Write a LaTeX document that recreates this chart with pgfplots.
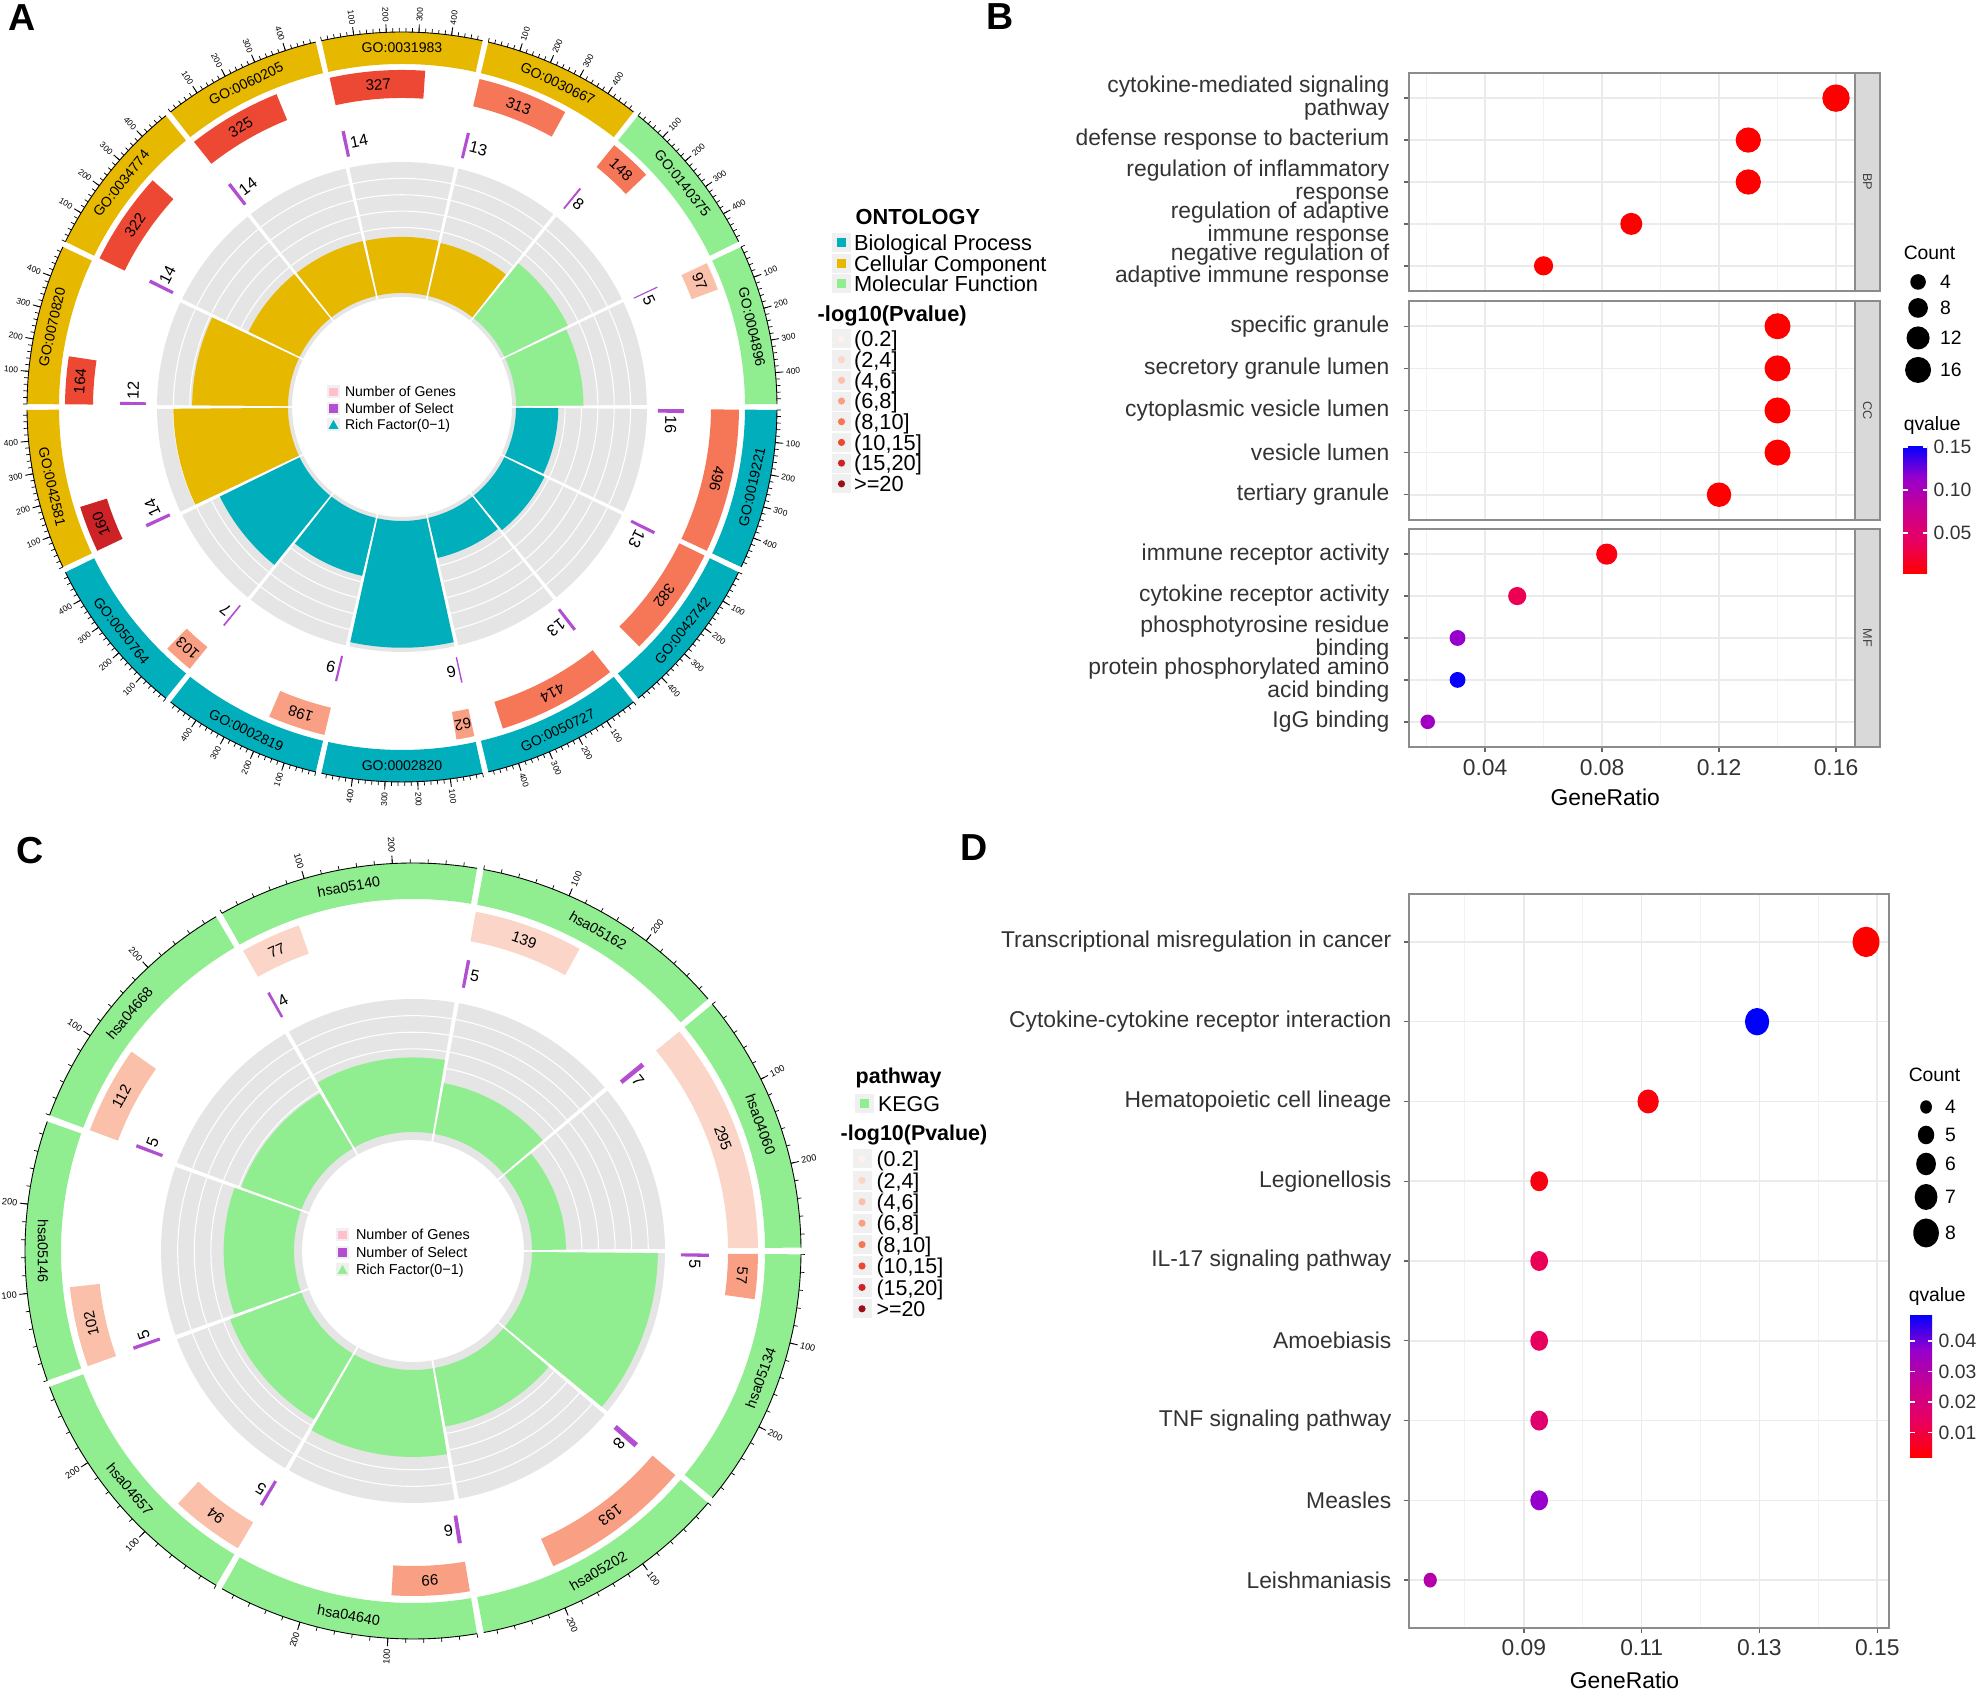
\documentclass[border=0pt]{standalone}
\usepackage{fontspec}
\setmainfont{Liberation Sans}
\usepackage{pgfplots}
\usepackage{pgfplotstable}
\pgfplotsset{compat=1.18}

\definecolor{ontbp}{RGB}{0,175,187}
\definecolor{ontcc}{RGB}{231,184,0}
\definecolor{ontmf}{RGB}{144,238,144}
\definecolor{selc}{RGB}{178,78,208}
\definecolor{ringbg}{RGB}{229,229,229}
\definecolor{keybg}{RGB}{240,240,240}
\definecolor{genepink}{RGB}{255,192,203}
\definecolor{p1}{RGB}{254,242,238}
\definecolor{p2}{RGB}{251,214,200}
\definecolor{p3}{RGB}{250,192,170}
\definecolor{p4}{RGB}{249,160,132}
\definecolor{p5}{RGB}{246,118,88}
\definecolor{p6}{RGB}{236,72,52}
\definecolor{p7}{RGB}{205,35,38}
\definecolor{p8}{RGB}{155,15,25}

% GO terms of panel A, clockwise from 3 o'clock
\pgfplotstableread{
k  id          ont genes sel bin
0  GO:0019221  bp  496   16  5
1  GO:0042742  bp  382   13  5
2  GO:0050727  bp  414   13  5
3  GO:0002820  bp  62    6   4
4  GO:0002819  bp  198   9   4
5  GO:0050764  bp  103   7   4
6  GO:0042581  cc  160   14  7
7  GO:0070820  cc  164   12  6
8  GO:0034774  cc  322   14  6
9  GO:0060205  cc  325   14  6
10 GO:0031983  cc  327   14  6
11 GO:0030667  cc  313   13  5
12 GO:0140375  mf  148   8   5
13 GO:0004896  mf  97    5   3
}\goTab

% KEGG pathways of panel C, clockwise from 3 o'clock
\pgfplotstableread{
k id       ont genes sel bin
0 hsa05134 mf  57    5   4
1 hsa05202 mf  193   8   4
2 hsa04640 mf  99    6   4
3 hsa04657 mf  94    5   3
4 hsa05146 mf  102   5   3
5 hsa04668 mf  112   5   3
6 hsa05140 mf  77    4   2
7 hsa05162 mf  139   5   2
8 hsa04060 mf  295   7   2
}\keggTab

% dot plots (row 1 = bottom)
\pgfplotstableread{
row ratio count q
5 0.16 16 0.0001
4 0.13 13 0.0001
3 0.13 13 0.0001
2 0.09 9  0.0001
1 0.06 6  0.0002
}\bpTab
\pgfplotstableread{
row ratio count q
5 0.14 14 0.0001
4 0.14 14 0.0001
3 0.14 14 0.0001
2 0.14 14 0.0001
1 0.12 12 0.0002
}\ccTab
\pgfplotstableread{
row ratio  count q
5 0.0816 8 0.008
4 0.0510 5 0.035
3 0.0306 3 0.114
2 0.0306 3 0.150
1 0.0204 2 0.108
}\mfTab
\pgfplotstableread{
row ratio  count q
9 0.1481 8 0.0020
8 0.1296 7 0.0488
7 0.1111 6 0.0035
6 0.0926 5 0.0040
5 0.0926 5 0.0125
4 0.0926 5 0.0135
3 0.0926 5 0.0165
2 0.0926 5 0.0370
1 0.0741 4 0.0300
}\keggDot

% polar position of (#1:#2) seen from the plotted point (\tp:\rp)
\newcommand\relpt[2]{%
  \pgfmathsetmacro\rx{(#2)*cos(#1)-\rp*cos(\tp)}%
  \pgfmathsetmacro\ry{(#2)*sin(#1)-\rp*sin(\tp)}%
  \pgfmathsetmacro\pa{atan2(\ry,\rx)}%
  \pgfmathsetmacro\pr{veclen(\rx,\ry)}}
\newcommand\ringseg[5]{%
  \relpt{#1}{#3}\let\sa\pa\let\sr\pr
  \relpt{#2}{#4}\let\ea\pa\let\er\pr
  \fill[fill=#5, draw=none] (\sa:\sr) arc[start angle=#1,end angle=#2,radius=#3] -- (\ea:\er) arc[start angle=#2,end angle=#1,radius=#4] -- cycle;}

\pgfplotsset{
  colormap={rb}{rgb255=(255,0,0) rgb255=(233,0,95) rgb255=(200,0,145) rgb255=(150,0,205) rgb255=(0,0,255)},
  ring/.style={forget plot, only marks, scatter, mark=*, mark size=0pt,
    mark options={draw opacity=0,fill opacity=0},
    point meta=explicit, scatter/@post marker code/.code={}},
  circax/.style={hide axis, x=0.1mm, y=0.1mm, xmin=-420, xmax=420, ymin=-420, ymax=420,
    anchor=center, clip=false},
  pageax/.style={hide axis, x=0.1mm, y=0.1mm, xmin=0, xmax=1978, ymin=0, ymax=1698,
    at={(0,0)}, anchor=south west, clip=false, legend cell align=left,
    legend style={draw=none, fill=none, inner sep=0pt, outer sep=0pt, row sep=0pt, anchor=north west}},
  dotax/.style={scale only axis, clip=false, scaled ticks=false,
    axis line style={black!45, line width=0.4pt},
    tick align=outside, tick pos=left, major tick length=0.5mm, minor tick length=0pt,
    tick style={black!60, line width=0.4pt},
    xmajorgrids, ymajorgrids, xminorgrids,
    major grid style={black!8, line width=0.45pt},
    minor grid style={black!5, line width=0.3pt},
    /pgf/number format/assume math mode=true,
    ticklabel style={font=\fontsize{6.5}{6.4}\selectfont, text=black!80},
    yticklabel style={align=right, inner sep=0pt, xshift=-1.4mm},
    xticklabel style={inner sep=0pt, yshift=-0.7mm, /pgf/number format/fixed, /pgf/number format/fixed zerofill, /pgf/number format/precision=2},
    colormap name=rb},
  dots/.style={only marks, scatter, mark=*, point meta=explicit,
    scatter/use mapped color={draw=mapped color, fill=mapped color},
    visualization depends on={\thisrow{count} \as \cnt}},
  cbar/.style={scale only axis, scaled ticks=false, axis line style={draw=none},
    tick style={draw=white, line width=0.5pt}, major tick length=0.45mm, tick align=inside,
    ytick pos=both, yticklabel pos=right,
    /pgf/number format/assume math mode=true,
    yticklabel style={font=\fontsize{5.5}{6}\selectfont, inner sep=0pt, xshift=0.6mm,
      /pgf/number format/fixed, /pgf/number format/fixed zerofill, /pgf/number format/precision=2}},
}

\newcommand\drawrings[1]{%
\addplot[ring,
  visualization depends on={\thisrow{k} \as \kk},
  scatter/@pre marker code/.code={%
    \pgfmathtruncatemacro\ki{\kk}%
    \pgfplotstablegetelem{\ki}{id}\of{#1}\let\lab\pgfplotsretval
    \pgfplotstablegetelem{\ki}{ont}\of{#1}\let\oc\pgfplotsretval
    \pgfmathsetmacro\ta{-\ki*\secw-\gapw/2}%
    \pgfmathsetmacro\tb{\ta-\spanw}%
    \pgfmathsetmacro\tm{\ta-\spanw/2}%
    \let\tp\ta\let\rp\rTm
    \pgfmathtruncatemacro\up{sin(\tm)>0.001}%
    \ifnum\up=1 \pgfmathsetmacro\rot{\tm-90}\else\pgfmathsetmacro\rot{\tm+90}\fi
    \begin{scope}[opacity=1,x=0.1mm,y=0.1mm]
      \ringseg{\ta}{\tb}{\rTi}{\rTo}{ont\oc}
      \relpt{\tm}{\rTm}\node[rotate=\rot,inner sep=0pt,font=\fontsize{\fsT}{\fsT}\selectfont] at (\pa:\pr) {\lab};
      \relpt{\ta}{\rTo}\draw[line width=0.25pt] (\pa:\pr) arc[start angle=\ta,end angle=\tb,radius=\rTo];
      \foreach \tk in \minticks {\pgfmathsetmacro\tv{\ta-\tk/\xmx*\spanw}%
        \relpt{\tv}{\rTo}\let\qa\pa\let\qr\pr\relpt{\tv}{\rTo+4}%
        \draw[line width=0.2pt] (\qa:\qr) -- (\pa:\pr);}
      \foreach \tk in \majticks {\pgfmathsetmacro\tv{\ta-\tk/\xmx*\spanw}%
        \relpt{\tv}{\rTo}\let\qa\pa\let\qr\pr\relpt{\tv}{\rTo+8}%
        \draw[line width=0.25pt] (\qa:\qr) -- (\pa:\pr);%
        \relpt{\tv}{\rTo+10}%
        \pgfmathtruncatemacro\rt{cos(\tv)>=0}%
        \ifnum\rt=1 \node[rotate=\tv,anchor=west,inner sep=0pt,font=\fontsize{\fsK}{\fsK}\selectfont] at (\pa:\pr) {\tk};%
        \else \node[rotate=\tv+180,anchor=east,inner sep=0pt,font=\fontsize{\fsK}{\fsK}\selectfont] at (\pa:\pr) {\tk};\fi}
    \end{scope}}]
  table[meta=k, x expr={\rTm*cos(-\thisrow{k}*\secw-\gapw/2)}, y expr={\rTm*sin(-\thisrow{k}*\secw-\gapw/2)}] {#1};
% number of genes
\addplot[ring,
  visualization depends on={\thisrow{k} \as \kk},
  visualization depends on={\thisrow{genes} \as \vv},
  visualization depends on={\thisrow{bin} \as \bb},
  scatter/@pre marker code/.code={%
    \pgfmathtruncatemacro\ki{\kk}%
    \pgfmathtruncatemacro\vi{\vv}%
    \pgfmathtruncatemacro\bi{\bb}%
    \pgfmathsetmacro\ta{-\ki*\secw-\gapw/2}%
    \pgfmathsetmacro\tb{\ta-\vi/\xmx*\spanw}%
    \pgfmathsetmacro\tm{(\ta+\tb)/2}%
    \let\tp\tb\let\rp\rGm
    \begin{scope}[opacity=1,x=0.1mm,y=0.1mm]
      \ringseg{\ta}{\tb}{\rGi}{\rGo}{p\bi}
      \relpt{\tm}{\rGm}\node[rotate=\tm-90,inner sep=0pt,font=\fontsize{\fsG}{\fsG}\selectfont] at (\pa:\pr) {\vi};
    \end{scope}}]
  table[meta=k, x expr={\rGm*cos(-\thisrow{k}*\secw-\gapw/2-\thisrow{genes}/\xmx*\spanw)},
        y expr={\rGm*sin(-\thisrow{k}*\secw-\gapw/2-\thisrow{genes}/\xmx*\spanw)}] {#1};
% number of select
\addplot[ring,
  visualization depends on={\thisrow{k} \as \kk},
  visualization depends on={\thisrow{sel} \as \sv},
  scatter/@pre marker code/.code={%
    \pgfmathtruncatemacro\ki{\kk}%
    \pgfmathtruncatemacro\si{\sv}%
    \pgfmathsetmacro\ta{-\ki*\secw-\gapw/2}%
    \pgfmathsetmacro\tb{\ta-\si/\xmx*\spanw}%
    \let\tp\tb\let\rp\rSm
    \begin{scope}[opacity=1,x=0.1mm,y=0.1mm]
      \ringseg{\ta}{\tb}{\rSi}{\rSo}{selc}
      \relpt{\tb}{\rSm+0.01}\node[rotate=\tb-90,anchor=west,inner sep=0.6pt,font=\fontsize{\fsS}{\fsS}\selectfont] at (\pa:\pr) {\si};
    \end{scope}}]
  table[meta=k, x expr={\rSm*cos(-\thisrow{k}*\secw-\gapw/2-\thisrow{sel}/\xmx*\spanw)},
        y expr={\rSm*sin(-\thisrow{k}*\secw-\gapw/2-\thisrow{sel}/\xmx*\spanw)}] {#1};
% rich factor
\addplot[ring,
  visualization depends on={\thisrow{k} \as \kk},
  visualization depends on={\thisrow{sel}/\thisrow{genes} \as \rich},
  scatter/@pre marker code/.code={%
    \pgfmathtruncatemacro\ki{\kk}%
    \pgfplotstablegetelem{\ki}{ont}\of{#1}\let\oc\pgfplotsretval
    \pgfmathsetmacro\ta{-\ki*\secw-\gapw/2}%
    \pgfmathsetmacro\tb{\ta-\spanw}%
    \pgfmathsetmacro\rr{\rFb+\rich*\rfk}%
    \let\tp\ta\let\rp\rr
    \begin{scope}[opacity=1,x=0.1mm,y=0.1mm]
      \ringseg{\ta}{\tb}{\rBi}{\rBo}{ringbg}
      \foreach \gi in {1,...,7}{\pgfmathsetmacro\rg{\rFb+\gi*(\rBo-\rFb)/8}%
        \relpt{\ta}{\rg}\draw[white,line width=0.3pt] (\pa:\pr) arc[start angle=\ta,end angle=\tb,radius=\rg];}
      \ringseg{\ta}{\tb}{\rFb}{\rr}{ont\oc}
    \end{scope}}]
  table[meta=k, x expr={(\rFb+\thisrow{sel}/\thisrow{genes}*\rfk)*cos(-\thisrow{k}*\secw-\gapw/2)},
        y expr={(\rFb+\thisrow{sel}/\thisrow{genes}*\rfk)*sin(-\thisrow{k}*\secw-\gapw/2)}] {#1};
}

\newcommand\pkey[2]{\addlegendimage{legend image code/.code={\path[draw=none] (0,-#2) rectangle (1.9mm,#2);\fill[keybg,draw=none] (0,-0.95mm) rectangle (1.9mm,0.95mm);\fill[#1,draw=none] (0.95mm,0) circle[radius=0.36mm];}}}
\newcommand\skey[2]{\addlegendimage{legend image code/.code={\path[draw=none] (0,-#2) rectangle (1.9mm,#2);\fill[keybg,draw=none] (0,-0.95mm) rectangle (1.9mm,0.95mm);\fill[#1,draw=none] (0.5mm,-0.45mm) rectangle (1.4mm,0.45mm);}}}
\newcommand\ikey[3]{\addlegendimage{legend image code/.code={\path[draw=none] (0,-#3) rectangle (1.3mm,#3);\fill[keybg,draw=none] (0,-0.65mm) rectangle (1.3mm,0.65mm);\fill[#1,draw=none] #2;}}}
\newcommand\ckey[3]{\addlegendimage{legend image code/.code={\path[draw=none] (0,-#1) rectangle (2.8mm,#1);\fill[black,draw=none] (1.4mm,0) ellipse[x radius=#2, y radius=#3];}}}

\begin{document}
\begin{tikzpicture}
\path[use as bounding box] (0,0) rectangle (197.8mm,169.8mm);

% ---------- panel A ----------
\def\secw{25.7142857}\def\gapw{0.9}\def\spanw{24.8142857}\def\xmx{496}
\def\rTi{343}\def\rTo{375}\def\rTm{359}
\def\rGi{309}\def\rGo{337}\def\rGm{323}
\def\rSi{256}\def\rSo{282}\def\rSm{269}
\def\rBi{110}\def\rBo{245}\def\rFb{114}\def\rfk{1310}
\def\majticks{100,200,300,400}\def\minticks{0,20,...,480}
\def\fsT{4}\def\fsG{4.3}\def\fsS{4.6}\def\fsK{2.4}
\begin{axis}[circax, at={(40.2mm,129.1mm)}]
\drawrings{\goTab}
\end{axis}

% ---------- panel C ----------
\def\secw{40}\def\gapw{1.0}\def\spanw{39}\def\xmx{295}
\def\rTi{352}\def\rTo{388}\def\rTm{370}
\def\rGi{315}\def\rGo{345}\def\rGm{330}
\def\rSi{268}\def\rSo{296}\def\rSm{282}
\def\rBi{111}\def\rBo{252}\def\rFb{119}\def\rfk{1435}
\def\majticks{100,200}\def\minticks{0,20,...,280}
\def\fsT{4.1}\def\fsG{4.3}\def\fsS{4.6}\def\fsK{2.6}
\begin{axis}[circax, at={(41.3mm,44.7mm)}]
\drawrings{\keggTab}
\end{axis}

\node[font=\fontsize{10.7}{11}\selectfont\bfseries, inner sep=0pt] at (2.2mm,168.0mm) {A};
\node[font=\fontsize{10.7}{11}\selectfont\bfseries, inner sep=0pt] at (100.0mm,168.1mm) {B};
\node[font=\fontsize{10.7}{11}\selectfont\bfseries, inner sep=0pt] at (3.0mm,84.7mm) {C};
\node[font=\fontsize{10.7}{11}\selectfont\bfseries, inner sep=0pt] at (97.4mm,85.0mm) {D};

% ---------- legends of A ----------
\begin{axis}[pageax, legend style={at={(axis description cs:0.16532,0.77400)},
    nodes={inner sep=0pt, text height=1.0mm, text depth=0pt, font=\fontsize{4}{4}\selectfont},
    /tikz/every odd column/.append style={column sep=0.5mm}}]
\ikey{genepink}{(0.22mm,-0.43mm) rectangle (1.08mm,0.43mm)}{0.825mm}\addlegendentry{Number of Genes}
\ikey{selc}{(0.22mm,-0.43mm) rectangle (1.08mm,0.43mm)}{0.825mm}\addlegendentry{Number of Select}
\ikey{ontbp}{(0.65mm,0.5mm) -- (0.15mm,-0.4mm) -- (1.15mm,-0.4mm) -- cycle}{0.825mm}\addlegendentry{Rich Factor(0−1)}
\end{axis}

\begin{axis}[pageax, legend style={at={(axis description cs:0.42063,0.86293)},
    nodes={inner sep=0pt, text height=1.55mm, text depth=0pt, font=\fontsize{6.2}{6.2}\selectfont},
    /tikz/every odd column/.append style={column sep=0.3mm}}]
\skey{ontbp}{1.025mm}\addlegendentry{Biological Process}
\skey{ontcc}{1.025mm}\addlegendentry{Cellular Component}
\skey{ontmf}{1.025mm}\addlegendentry{Molecular Function}
\node[anchor=west, inner sep=0pt, font=\fontsize{6.2}{6.2}\selectfont\bfseries] at (855,1481) {ONTOLOGY};
\end{axis}

\begin{axis}[pageax, legend style={at={(axis description cs:0.42063,0.80645)},
    nodes={inner sep=0pt, text height=1.55mm, text depth=0pt, font=\fontsize{6.2}{6.2}\selectfont},
    /tikz/every odd column/.append style={column sep=0.3mm}}]
\pkey{p1}{1.035mm}\addlegendentry{(0.2]}
\pkey{p2}{1.035mm}\addlegendentry{(2,4]}
\pkey{p3}{1.035mm}\addlegendentry{(4,6]}
\pkey{p4}{1.035mm}\addlegendentry{(6,8]}
\pkey{p5}{1.035mm}\addlegendentry{(8,10]}
\pkey{p6}{1.035mm}\addlegendentry{(10,15]}
\pkey{p7}{1.035mm}\addlegendentry{(15,20]}
\pkey{p8}{1.035mm}\addlegendentry{>=20}
\node[anchor=west, inner sep=0pt, font=\fontsize{6.2}{6.2}\selectfont\bfseries] at (817,1382) {-log10(Pvalue)};
\end{axis}

% ---------- legends of C ----------
\begin{axis}[pageax, legend style={at={(axis description cs:0.16987,0.27783)},
    nodes={inner sep=0pt, text height=1.0mm, text depth=0pt, font=\fontsize{4.1}{4.1}\selectfont},
    /tikz/every odd column/.append style={column sep=0.7mm}}]
\ikey{genepink}{(0.22mm,-0.43mm) rectangle (1.08mm,0.43mm)}{0.875mm}\addlegendentry{Number of Genes}
\ikey{selc}{(0.22mm,-0.43mm) rectangle (1.08mm,0.43mm)}{0.875mm}\addlegendentry{Number of Select}
\ikey{ontmf}{(0.65mm,0.5mm) -- (0.15mm,-0.4mm) -- (1.15mm,-0.4mm) -- cycle}{0.875mm}\addlegendentry{Rich Factor(0−1)}
\end{axis}

\begin{axis}[pageax, legend style={at={(axis description cs:0.43200,0.35586)},
    nodes={inner sep=0pt, text height=1.55mm, text depth=0pt, font=\fontsize{6.1}{6.1}\selectfont},
    /tikz/every odd column/.append style={column sep=0.45mm}}]
\skey{ontmf}{1.025mm}\addlegendentry{KEGG}
\node[anchor=west, inner sep=0pt, font=\fontsize{6.1}{6.1}\selectfont\bfseries] at (855,620) {pathway};
\end{axis}

\begin{axis}[pageax, legend style={at={(axis description cs:0.43099,0.32373)},
    nodes={inner sep=0pt, text height=1.55mm, text depth=0pt, font=\fontsize{6.1}{6.1}\selectfont},
    /tikz/every odd column/.append style={column sep=0.5mm}}]
\pkey{p1}{1.07mm}\addlegendentry{(0.2]}
\pkey{p2}{1.07mm}\addlegendentry{(2,4]}
\pkey{p3}{1.07mm}\addlegendentry{(4,6]}
\pkey{p4}{1.07mm}\addlegendentry{(6,8]}
\pkey{p5}{1.07mm}\addlegendentry{(8,10]}
\pkey{p6}{1.07mm}\addlegendentry{(10,15]}
\pkey{p7}{1.07mm}\addlegendentry{(15,20]}
\pkey{p8}{1.07mm}\addlegendentry{>=20}
\node[anchor=west, inner sep=0pt, font=\fontsize{6.1}{6.1}\selectfont\bfseries] at (840,563) {-log10(Pvalue)};
\end{axis}

% ---------- panel B ----------
\begin{axis}[dotax, name=bp, at={(140.9mm,140.7mm)}, anchor=south west, width=44.6mm, height=21.8mm,
  xmin=0.014, xmax=0.1665, ymin=0.4, ymax=5.6,
  xtick={0.04,0.08,0.12,0.16}, minor xtick={0.02,0.06,0.10,0.14}, xticklabels={}, xtick style={draw=none},
  ytick={1,...,5},
  yticklabels={{negative regulation of\\adaptive immune response},{regulation of adaptive\\immune response},{regulation of inflammatory\\response},{defense response to bacterium},{cytokine-mediated signaling\\pathway}},
  point meta min=0.002, point meta max=0.152,
  colorbar, colorbar style={cbar, at={(parent axis.north east)}, anchor=north west, xshift=1.8mm, yshift=-37.2mm,
    width=2.4mm, height=12.9mm, ytick={0.05,0.10,0.15}}]
\addplot[dots, scatter/@pre marker code/.append style={/tikz/mark size={sqrt(100+36*\cnt)*0.05mm}}] table[x=ratio, y=row, meta=q] {\bpTab};
\end{axis}
\begin{axis}[dotax, name=cc, at={(140.9mm,117.8mm)}, anchor=south west, width=44.6mm, height=21.9mm,
  xmin=0.014, xmax=0.1665, ymin=0.4, ymax=5.6,
  xtick={0.04,0.08,0.12,0.16}, minor xtick={0.02,0.06,0.10,0.14}, xticklabels={}, xtick style={draw=none},
  ytick={1,...,5},
  yticklabels={{tertiary granule},{vesicle lumen},{cytoplasmic vesicle lumen},{secretory granule lumen},{specific granule}},
  point meta min=0.002, point meta max=0.152]
\addplot[dots, scatter/@pre marker code/.append style={/tikz/mark size={sqrt(100+36*\cnt)*0.05mm}}] table[x=ratio, y=row, meta=q] {\ccTab};
\end{axis}
\begin{axis}[dotax, name=mf, at={(140.9mm,95.1mm)}, anchor=south west, width=44.6mm, height=21.8mm,
  xmin=0.014, xmax=0.1665, ymin=0.4, ymax=5.6,
  xtick={0.04,0.08,0.12,0.16}, minor xtick={0.02,0.06,0.10,0.14},
  ytick={1,...,5},
  yticklabels={{IgG binding},{protein phosphorylated amino\\acid binding},{phosphotyrosine residue\\binding},{cytokine receptor activity},{immune receptor activity}},
  xlabel={GeneRatio}, xlabel style={at={(axis description cs:0.44,0)}, anchor=north, inner sep=0pt, yshift=-4.1mm, font=\fontsize{6.5}{6.5}\selectfont},
  point meta min=0.002, point meta max=0.152]
\addplot[dots, scatter/@pre marker code/.append style={/tikz/mark size={sqrt(100+36*\cnt)*0.05mm}}] table[x=ratio, y=row, meta=q] {\mfTab};
\end{axis}
\foreach \ax/\lb in {bp/BP, cc/CC, mf/MF}{
  \draw[black!45, line width=0.4pt, fill=black!15] (\ax.north east) rectangle ([xshift=2.5mm]\ax.south east);
  \node[rotate=-90, inner sep=0pt, font=\fontsize{3.6}{3.6}\selectfont, text=black!75] at ([xshift=1.25mm]\ax.east) {\lb};
}

\begin{axis}[pageax, legend style={at={(axis description cs:0.96259,0.84099)},
    nodes={inner sep=0pt, text height=1.4mm, text depth=0pt, font=\fontsize{5.5}{5.5}\selectfont},
    /tikz/every odd column/.append style={column sep=0.8mm}}]
\ckey{1.2mm}{0.78mm}{0.78mm}\addlegendentry{4}
\ckey{1.4mm}{0.985mm}{0.985mm}\addlegendentry{8}
\ckey{1.6mm}{1.155mm}{1.155mm}\addlegendentry{12}
\ckey{1.6mm}{1.3mm}{1.3mm}\addlegendentry{16}
\node[anchor=west, inner sep=0pt, font=\fontsize{5.5}{5.5}\selectfont] at (1903,1445) {Count};
\node[anchor=west, inner sep=0pt, font=\fontsize{5.5}{5.5}\selectfont] at (1903,1272) {qvalue};
\end{axis}

% ---------- panel D ----------
\begin{axis}[dotax, name=dd, at={(140.9mm,7.0mm)}, anchor=south west, width=48.0mm, height=73.4mm,
  xmin=0.0705, xmax=0.152, ymin=0.4, ymax=9.6,
  xtick={0.09,0.11,0.13,0.15}, minor xtick={0.08,0.10,0.12,0.14},
  xticklabel style={yshift=0.1mm},
  ytick={1,...,9},
  yticklabels={{Leishmaniasis},{Measles},{TNF signaling pathway},{Amoebiasis},{IL-17 signaling pathway},{Legionellosis},{Hematopoietic cell lineage},{Cytokine-cytokine receptor interaction},{Transcriptional misregulation in cancer}},
  yticklabel style={xshift=0.2mm},
  xlabel={GeneRatio}, xlabel style={at={(axis description cs:0.449,0)}, anchor=north, inner sep=0pt, yshift=-4.3mm, font=\fontsize{6.5}{6.5}\selectfont},
  point meta min=0.002, point meta max=0.0488,
  colorbar, colorbar style={cbar, at={(parent axis.north east)}, anchor=north west, xshift=-0.9mm, yshift=-42.0mm,
    width=2.2mm, height=14.3mm, ytick={0.01,0.02,0.03,0.04}}]
\addplot[dots, mark options={xscale=0.88}, scatter/@pre marker code/.append style={/tikz/mark size={sqrt(165*\cnt-480)*0.05mm}}] table[x=ratio, y=row, meta=q] {\keggDot};
\end{axis}

\begin{axis}[pageax, legend style={at={(axis description cs:0.96663,0.35571)},
    nodes={inner sep=0pt, text height=1.4mm, text depth=0pt, font=\fontsize{5.5}{5.5}\selectfont},
    /tikz/every odd column/.append style={column sep=0.5mm}}]
\ckey{1.3mm}{0.59mm}{0.67mm}\addlegendentry{4}
\ckey{1.5mm}{0.82mm}{0.93mm}\addlegendentry{5}
\ckey{1.4mm}{0.99mm}{1.13mm}\addlegendentry{6}
\ckey{1.9mm}{1.14mm}{1.3mm}\addlegendentry{7}
\ckey{1.7mm}{1.28mm}{1.45mm}\addlegendentry{8}
\node[anchor=west, inner sep=0pt, font=\fontsize{5.5}{5.5}\selectfont] at (1908,623) {Count};
\node[anchor=west, inner sep=0pt, font=\fontsize{5.5}{5.5}\selectfont] at (1908,401) {qvalue};
\end{axis}

\end{tikzpicture}
\end{document}
